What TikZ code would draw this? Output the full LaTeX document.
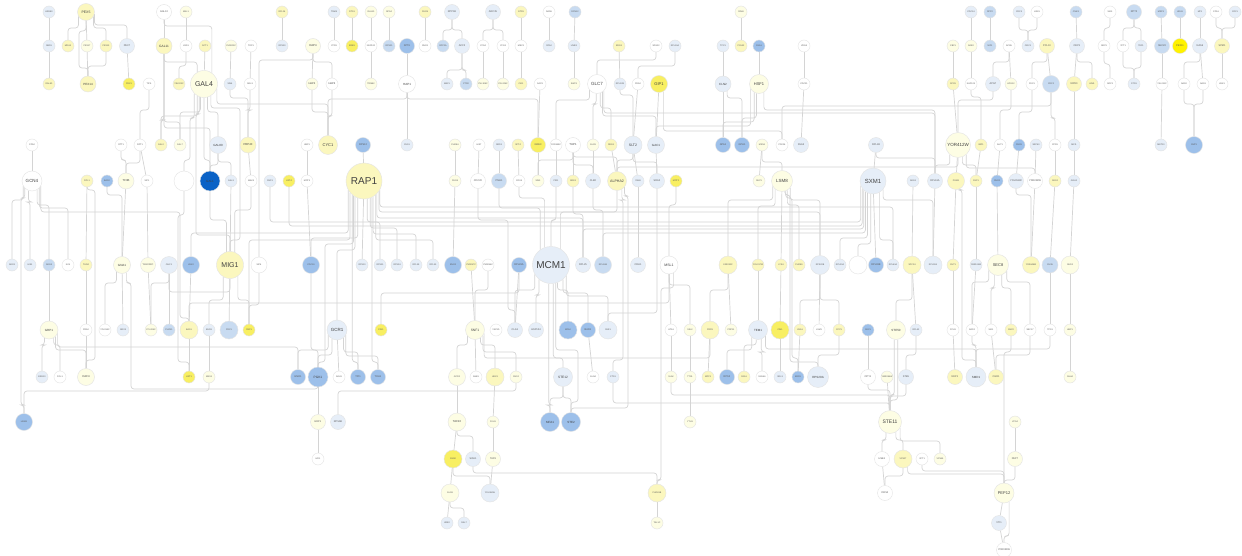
\documentclass[tikz,border=0pt]{standalone}
\usepackage{fontspec}
\setmainfont{Liberation Sans}
\usetikzlibrary{backgrounds}
\definecolor{cY0f}{HTML}{FDFDE4}
\definecolor{cYf}{HTML}{FBF7BE}
\definecolor{cYYf}{HTML}{F8EF62}
\definecolor{cYFf}{HTML}{FFF200}
\definecolor{cB0f}{HTML}{E6EEF8}
\definecolor{cBf}{HTML}{C8DBF1}
\definecolor{cBBf}{HTML}{9DC0EA}
\definecolor{cBDf}{HTML}{0A62C6}
\definecolor{edgec}{HTML}{D4D4D4}
\tikzset{
 nd/.style={circle,draw=black!11,line width=0.4pt,inner sep=0pt,minimum size=12pt,font=\fontsize{2.2}{2.6}\selectfont,text=black!65},
 cw/.style={fill=white}, cy0/.style={fill=cY0f}, cy/.style={fill=cYf}, cyy/.style={fill=cYYf},
 cyf/.style={fill=cYFf}, cb0/.style={fill=cB0f}, cb/.style={fill=cBf}, cbb/.style={fill=cBBf}, cbd/.style={fill=cBDf},
 md/.style={minimum size=15pt,font=\fontsize{2.5}{3}\selectfont},
 ft/.style={font=\fontsize{#1}{#1}\selectfont,text=black!75},
 edge/.style={draw=edgec,line width=0.7pt,rounded corners=3pt},
}
\newcommand\gn[5]{\node[nd,#4] (#1) at (#2,#3) {#5};}
\newcommand\Es[2]{\draw[edge] (#1) -- (#2);}
\newcommand\Ec[3]{\draw[edge] (#1) -- (#1 |- 0,#3) -| (#2);}
\newcommand\Ez[5]{\draw[edge] (#1) -- (#1 |- 0,#3) -- (#4,#3) -- (#4,#5) -| (#2);}
\newcommand\Ef[4]{\draw[edge] (#1.#2) |- (#3 |- 0,#4) -- (#3);}
\newcommand\Eg[6]{\draw[edge] (#1.#2) |- (#5,#4) -- (#5,#6) -| (#3);}
\newcommand\Et[4]{\draw[edge] (#1) -- (#1 |- 0,#4) -| (#2.#3);}
\begin{document}
\begin{tikzpicture}[x=1pt,y=-1pt]
\path[use as bounding box] (0,0) rectangle (1242,556);
% Row A
\gn{a1}{49}{12}{cb0}{ARG80}
\gn{a2}{86}{12}{cy,minimum size=17pt,ft=3.5}{PEX5}
\gn{a3}{164}{12}{cw,md}{GAL10}
\gn{a4}{186}{12}{cy0}{MKL1}
\gn{a5}{282}{12}{cy}{RPL24}
\gn{a6}{334}{12}{cb0}{TRM4}
\gn{a7}{352}{12}{cy}{RTS1}
\gn{a8}{371}{12}{cy0}{RLH10}
\gn{a9}{389}{12}{cy0}{NPS4}
\gn{a10}{425}{12}{cy}{PHO5}
\gn{a11}{452}{12}{cb0,md}{RPP1B}
\gn{a12}{493}{12}{cb0,md}{ARC35}
\gn{a13}{521}{12}{cy}{GTR1}
\gn{a14}{549}{12}{cw}{RAD6}
\gn{a15}{575}{12}{cb}{RPN12}
\gn{a16}{741}{12}{cy0}{RIM4}
\gn{a17}{971}{12}{cb0}{CDC14}
\gn{a18}{990}{12}{cb}{RPP2}
\gn{a19}{1019}{12}{cb0}{CDC3}
\gn{a20}{1037}{12}{cw}{VAN1}
\gn{a21}{1076}{12}{cb}{CMK1}
\gn{a22}{1110}{12}{cw}{SKI3}
\gn{a23}{1134}{12}{cb,md}{RPT2}
\gn{a24}{1161}{12}{cb}{MRP1}
\gn{a25}{1180}{12}{cb}{HDA1}
\gn{a26}{1200}{12}{cb0}{MF1}
\gn{a27}{1216}{12}{cw}{CPA1}
\gn{a28}{1235}{12}{cb0}{COF1}
% Row B
\gn{b1}{49}{46}{cb0}{NBD1}
\gn{b2}{68}{46}{cy}{MDH3}
\gn{b3}{87}{46}{cy0}{PEX17}
\gn{b4}{106}{46}{cy}{PEX13}
\gn{b5}{127}{46}{cb0,md}{PEX7}
\gn{b6}{164}{46}{cy,minimum size=16pt,ft=3.2}{GAL11}
\gn{b7}{186}{46}{cw}{LRG1}
\gn{b8}{205}{46}{cy}{SCT1}
\gn{b9}{231}{46}{cy0}{YHR003C}
\gn{b10}{251}{46}{cw}{TOP1}
\gn{b11}{282}{46}{cb0}{RPS30}
\gn{b12}{313}{46}{cy0,md,ft=2.8}{HAP4}
\gn{b13}{334}{46}{cw}{YPR1}
\gn{b14}{352}{46}{cyy}{ERB1}
\gn{b15}{371}{46}{cw}{NUP120}
\gn{b16}{389}{46}{cb}{RPS21}
\gn{b17}{407}{46}{cbb,md}{SPT6}
\gn{b18}{425}{46}{cw}{SNO1}
\gn{b19}{443}{46}{cb}{RPP2A}
\gn{b20}{462}{46}{cb0,md}{ACF2}
\gn{b21}{483}{46}{cw}{YCS4}
\gn{b22}{503}{46}{cw}{YCG1}
\gn{b23}{521}{46}{cw}{MEC1}
\gn{b24}{549}{46}{cb0}{RFA2}
\gn{b25}{574}{46}{cb0}{UME1}
\gn{b26}{619}{46}{cy}{ERG1}
\gn{b27}{656}{46}{cw}{SDS22}
\gn{b28}{675}{46}{cb0}{RPL19A}
\gn{b29}{723}{46}{cb0}{TPC1}
\gn{b30}{741}{46}{cy}{POL32}
\gn{b31}{759}{46}{cbb}{SSA1}
\gn{b32}{804}{46}{cw}{VRG4}
\gn{b33}{953}{46}{cy0}{CBF1}
\gn{b34}{971}{46}{cy0}{ADE2}
\gn{b35}{990}{46}{cb}{NIP1}
\gn{b36}{1009}{46}{cw}{APG5}
\gn{b37}{1028}{46}{cb0}{ORC1}
\gn{b38}{1047}{46}{cy,md}{PCL10}
\gn{b39}{1077}{46}{cb0,md}{OKP1}
\gn{b40}{1104}{46}{cw}{NDP1}
\gn{b41}{1123}{46}{cw}{YPT1}
\gn{b42}{1141}{46}{cb0}{TEF1}
\gn{b43}{1162}{46}{cb,md}{SEC20}
\gn{b44}{1180}{46}{cyf,md}{PEX11}
\gn{b45}{1200}{46}{cb0,md}{NAS6}
\gn{b46}{1222}{46}{cy,md}{SPM1}
% Row C
\gn{c1}{49}{84}{cy}{DAL80}
\gn{c2}{88}{84}{cy,minimum size=16pt,ft=3}{PEX14}
\gn{c3}{129}{84}{cyy}{PEX1}
\gn{c4}{149}{84}{cw}{TIF5}
\gn{c5}{179}{84}{cy}{YEL023C}
\gn{c6}{204}{84}{cy0,minimum size=27pt,ft=7}{GAL4}
\gn{c7}{230}{84}{cb0}{SIN4}
\gn{c8}{250}{84}{cw}{NGL3}
\gn{c9}{312}{84}{cy0,ft=2.6}{HAP2}
\gn{c10}{332}{84}{cw,ft=2.6}{HAP3}
\gn{c11}{371}{84}{cy0}{TRM82}
\gn{c12}{407}{84}{cw,minimum size=17pt,ft=3}{HAP1}
\gn{c13}{447}{84}{cb0}{MAF1}
\gn{c14}{466}{84}{cb}{CTR2}
\gn{c15}{483}{84}{cy0}{YNL108C}
\gn{c16}{503}{84}{cy0}{YGL204C}
\gn{c17}{521}{84}{cy}{CKI1}
\gn{c18}{540}{84}{cw}{SAC3}
\gn{c19}{574}{84}{cy0}{SWC1}
\gn{c20}{597}{84}{cw,minimum size=19pt,ft=4.5}{GLC7}
\gn{c21}{620}{84}{cb0}{RPL12B}
\gn{c22}{638}{84}{cw}{PEA2}
\gn{c23}{659}{84}{cyy,minimum size=17pt,ft=4}{GIP1}
\gn{c24}{723}{84}{cb0,minimum size=16pt,ft=3}{CLN2}
\gn{c25}{759}{84}{cy0,minimum size=19pt,ft=4}{HSF1}
\gn{c26}{804}{84}{cw}{CDC21}
\gn{c27}{953}{84}{cy}{SPO1}
\gn{c28}{971}{84}{cw}{KAP123}
\gn{c29}{993}{84}{cb0,md}{APG7}
\gn{c30}{1011}{84}{cy0}{APG12}
\gn{c31}{1032}{84}{cw}{PKC1}
\gn{c32}{1051}{84}{cb,minimum size=17pt}{CDC2}
\gn{c33}{1074}{84}{cy,md}{NIP80}
\gn{c34}{1092}{84}{cy}{HIM1}
\gn{c35}{1110}{84}{cw}{NOP1}
\gn{c36}{1134}{84}{cb0}{STD1}
\gn{c37}{1162}{84}{cw}{YKL211C}
\gn{c38}{1184}{84}{cw}{NAS2}
\gn{c39}{1203}{84}{cw}{NAS3}
\gn{c40}{1222}{84}{cw}{HXK1}
% Row D
\gn{d1}{32}{145}{cw}{CPA2}
\gn{d2}{121}{145}{cw}{RTT1}
\gn{d3}{140}{145}{cw}{RPT1}
\gn{d4}{161}{145}{cy}{GAL2}
\gn{d5}{180}{145}{cy0}{GAL7}
\gn{d6}{218}{145}{cb0,minimum size=17pt,ft=3}{GAL80}
\gn{d7}{248}{145}{cy,minimum size=16pt,ft=2.8}{PRP40}
\gn{d8}{307}{145}{cw}{UBP1}
\gn{d9}{328}{145}{cy,minimum size=19pt,ft=4}{CYC1}
\gn{d10}{363}{145}{cbb,md}{RPS12}
\gn{d11}{407}{145}{cb0}{CUS1}
\gn{d12}{455}{145}{cy0}{PHO84}
\gn{d13}{479}{145}{cw}{HIS7}
\gn{d14}{499}{145}{cb0}{NRD1}
\gn{d15}{518}{145}{cy}{SPT4}
\gn{d16}{538}{145}{cyy,md}{GRE3}
\gn{d17}{556}{145}{cw}{YOR149C}
\gn{d18}{573}{145}{cw,md,ft=2.8}{TUP1}
\gn{d19}{593}{145}{cy0}{GLC8}
\gn{d20}{611}{145}{cy}{REG1}
\gn{d21}{633}{145}{cb0,minimum size=18pt,ft=3.5}{SLT2}
\gn{d22}{656}{145}{cb0,minimum size=17pt,ft=3}{GAC1}
\gn{d23}{723}{145}{cbb,md}{GPA1}
\gn{d24}{742}{145}{cbb,md}{GPH1}
\gn{d25}{762}{145}{cy0}{MSN1}
\gn{d26}{782}{145}{cw}{PFK26}
\gn{d27}{801}{145}{cb0,md}{SSA3}
\gn{d28}{876}{145}{cb0,md}{RPL1B}
\gn{d29}{958}{145}{cy0,minimum size=25pt,ft=4.5}{YOR412W}
\gn{d30}{981}{145}{cy}{IMP1}
\gn{d31}{1000}{145}{cw}{AUT1}
\gn{d32}{1019}{145}{cbb}{RSC8}
\gn{d33}{1036}{145}{cb0}{SRP40}
\gn{d34}{1055}{145}{cw}{CPR1}
\gn{d35}{1074}{145}{cb0}{MCI1}
\gn{d36}{1161}{145}{cb0}{MET10}
\gn{d37}{1194}{145}{cbb,minimum size=17pt}{SMT3}
% Row E
\gn{e1}{32}{181}{cw,minimum size=20pt,ft=4.5}{GCN4}
\gn{e2}{87}{181}{cy}{RPL1}
\gn{e3}{107}{181}{cbb}{BAS2}
\gn{e4}{126}{181}{cy0,minimum size=16pt,ft=2.8}{TFIIB}
\gn{e5}{147}{181}{cw}{SIP1}
\gn{e6}{184}{181}{cw,minimum size=20pt}{}
\gn{e7}{210}{181}{cbd,minimum size=20pt,ft=3}{GAL1}
\gn{e8}{231}{181}{cb0}{GAL3}
\gn{e9}{251}{181}{cw}{MAK3}
\gn{e10}{270}{181}{cb0}{SNF3}
\gn{e11}{289}{181}{cyy}{HXT4}
\gn{e12}{307}{181}{cw}{MOT3}
\gn{e13}{364}{181}{cy,minimum size=36pt,ft=10}{RAP1}
\gn{e14}{455}{181}{cy0}{PHO4}
\gn{e15}{478}{181}{cw,md}{CDC20}
\gn{e16}{499}{181}{cb,md}{PMA1}
\gn{e17}{519}{181}{cw}{COX4}
\gn{e18}{538}{181}{cy0}{SIN3}
\gn{e19}{556}{181}{cb0}{PIR1}
\gn{e20}{573}{181}{cy}{GRE1}
\gn{e21}{593}{181}{cb0,md}{CLB2}
\gn{e22}{617}{181}{cy,minimum size=19pt,ft=3.6}{ALPHA2}
\gn{e23}{638}{181}{cb0}{SWI4}
\gn{e24}{657}{181}{cb0,md}{SRA2}
\gn{e25}{676}{181}{cyy}{MOT2}
\gn{e26}{759}{181}{cy0}{NUP1}
\gn{e27}{782}{181}{cy0,minimum size=21pt,ft=4.5}{LSM8}
\gn{e28}{873}{181}{cb0,minimum size=26pt,ft=6}{SXM1}
\gn{e29}{913}{181}{cb0}{ARG1}
\gn{e30}{935}{181}{cb0,md}{RPL16A}
\gn{e31}{956}{181}{cy,minimum size=17pt}{PGM1}
\gn{e32}{976}{181}{cy}{SSP1}
\gn{e33}{997}{181}{cbb}{SNO2}
\gn{e34}{1016}{181}{cb0,md}{YOL054W}
\gn{e35}{1035}{181}{cw,md}{YDR248W}
\gn{e36}{1055}{181}{cy}{SEC4}
\gn{e37}{1074}{181}{cb0}{GGA2}
% Row F
\gn{f1}{12}{265}{cb0}{ARO1}
\gn{f2}{30}{265}{cb0}{HIS1}
\gn{f3}{49}{265}{cb}{ARG3}
\gn{f4}{68}{265}{cw}{ILV5}
\gn{f5}{86}{265}{cy}{THR4}
\gn{f6}{122}{265}{cy0,minimum size=17pt,ft=3}{GNA1}
\gn{f7}{148}{265}{cy0,md}{YHL014C}
\gn{f8}{169}{265}{cb0,minimum size=17pt}{OHC1}
\gn{f9}{191}{265}{cbb,minimum size=17pt}{HXK2}
\gn{f10}{230}{265}{cy,minimum size=27pt,ft=7}{MIG1}
\gn{f11}{259}{265}{cw,minimum size=16pt}{SIP4}
\gn{f12}{311}{265}{cbb,minimum size=17pt}{CDC19}
\gn{f13}{362}{265}{cb0}{RPS10}
\gn{f14}{380}{265}{cb0}{RPS31}
\gn{f15}{397}{265}{cb0}{RPS24}
\gn{f16}{416}{265}{cb0}{RPL39}
\gn{f17}{433}{265}{cb0}{RPL33}
\gn{f18}{453}{265}{cbb,minimum size=17pt}{ENO2}
\gn{f19}{471}{265}{cy}{YNR057C}
\gn{f20}{488}{265}{cw}{YNR056C}
\gn{f21}{519}{265}{cbb,md}{RPL26A}
\gn{f22}{551}{265}{cb0,minimum size=37pt,ft=10}{MCM1}
\gn{f23}{583}{265}{cb0,md}{RPL25}
\gn{f24}{603}{265}{cb,minimum size=17pt}{RPL16B}
\gn{f25}{638}{265}{cb0,md}{CRH1}
\gn{f26}{669}{265}{cw,minimum size=18pt,ft=3.5}{MSL1}
\gn{f27}{728}{265}{cy,minimum size=18pt}{YAR032C}
\gn{f28}{758}{265}{cy}{YOL017W}
\gn{f29}{781}{265}{cy}{LYS4}
\gn{f30}{799}{265}{cy}{PHO89}
\gn{f31}{820}{265}{cb0,minimum size=19pt}{RPS20B}
\gn{f32}{840}{265}{cb0}{RPL20A}
\gn{f33}{858}{265}{cw,minimum size=18pt}{}
\gn{f34}{876}{265}{cbb,md}{RPL36B}
\gn{f35}{893}{265}{cb0}{RPL43A}
\gn{f36}{912}{265}{cy,minimum size=18pt}{SPC24}
\gn{f37}{933}{265}{cb0,minimum size=18pt}{RPL11B}
\gn{f38}{953}{265}{cy}{CHT1}
\gn{f39}{976}{265}{cb0}{YBR124W}
\gn{f40}{998}{265}{cy0,minimum size=21pt,ft=4}{SEC8}
\gn{f41}{1031}{265}{cy,minimum size=17pt}{YDR448W}
\gn{f42}{1050}{265}{cb,minimum size=16pt}{CHS5}
\gn{f43}{1070}{265}{cy0,minimum size=18pt}{NUD2}
% Row G
\gn{g1}{49}{330}{cy0,minimum size=18pt,ft=3}{GRP1}
\gn{g2}{86}{330}{cw}{PRA2}
\gn{g3}{105}{330}{cw}{YFL034C}
\gn{g4}{123}{330}{cb0}{GRX3}
\gn{g5}{151}{330}{cy0}{YCL026C}
\gn{g6}{169}{330}{cb}{PHO11}
\gn{g7}{189}{330}{cy,minimum size=18pt}{BAS1}
\gn{g8}{209}{330}{cb0}{BUD3}
\gn{g9}{229}{330}{cb,minimum size=18pt}{PDC1}
\gn{g10}{249}{330}{cyy}{FBP1}
\gn{g11}{337}{330}{cb0,minimum size=20pt,ft=4.5}{GCR1}
\gn{g12}{381}{330}{cyy}{PGI1}
\gn{g13}{475}{330}{cy0,minimum size=19pt,ft=3.3}{SNF1}
\gn{g14}{496}{330}{cw}{YAP1D}
\gn{g15}{515}{330}{cb0,md}{CLG1}
\gn{g16}{536}{330}{cb0,md}{HSP104}
\gn{g17}{568}{330}{cbb,minimum size=18pt}{MFA2}
\gn{g18}{588}{330}{cbb,md}{BAR1}
\gn{g19}{608}{330}{cb0,minimum size=18pt}{FAR1}
\gn{g20}{671}{330}{cw}{HTA1}
\gn{g21}{690}{330}{cy0}{SSL2}
\gn{g22}{710}{330}{cy,minimum size=18pt}{PRP8}
\gn{g23}{731}{330}{cy0}{PRP11}
\gn{g24}{758}{330}{cb0,minimum size=19pt,ft=3}{TEM1}
\gn{g25}{780}{330}{cyy,minimum size=18pt}{CIN1}
\gn{g26}{800}{330}{cy}{USA1}
\gn{g27}{819}{330}{cw}{LSM1}
\gn{g28}{839}{330}{cy}{CCP1}
\gn{g29}{868}{330}{cbb}{SEC1}
\gn{g30}{896}{330}{cy0,minimum size=19pt,ft=3}{STE50}
\gn{g31}{916}{330}{cb0}{RPL42}
\gn{g32}{953}{330}{cw}{PCH1}
\gn{g33}{972}{330}{cw}{ARP4}
\gn{g34}{991}{330}{cw}{SKI1}
\gn{g35}{1011}{330}{cy}{SNC2}
\gn{g36}{1030}{330}{cw}{SEC17}
\gn{g37}{1050}{330}{cw}{TPS1}
\gn{g38}{1070}{330}{cy0}{HBP1}
% Row H
\gn{h1}{42}{377}{cb0}{ERG10}
\gn{h2}{60}{377}{cw}{FOL1}
\gn{h3}{86}{377}{cy0,minimum size=17pt,ft=2.8}{CAF4}
\gn{h4}{189}{377}{cyy}{HXT1}
\gn{h5}{209}{377}{cy0}{MKS1}
\gn{h6}{298}{377}{cbb,md}{ENO1}
\gn{h7}{318}{377}{cbb,minimum size=20pt,ft=3.2}{PGK1}
\gn{h8}{339}{377}{cw}{ADH1}
\gn{h9}{358}{377}{cbb,md}{TPI1}
\gn{h10}{378}{377}{cbb,md}{TDH1}
\gn{h11}{457}{377}{cy0,minimum size=17pt}{GCR2}
\gn{h12}{476}{377}{cw}{ANB1}
\gn{h13}{495}{377}{cy,minimum size=18pt}{HEX3}
\gn{h14}{516}{377}{cy0}{SNF4}
\gn{h15}{563}{377}{cb0,minimum size=19pt,ft=3.2}{STE12}
\gn{h16}{593}{377}{cw}{GLN4}
\gn{h17}{613}{377}{cb0}{CTS1}
\gn{h18}{671}{377}{cy0}{SLA2}
\gn{h19}{690}{377}{cy0}{TTS1}
\gn{h20}{708}{377}{cy}{MPP1}
\gn{h21}{727}{377}{cbb,md}{RPS2}
\gn{h22}{744}{377}{cy}{PAA1}
\gn{h23}{762}{377}{cw}{SNU66}
\gn{h24}{780}{377}{cb0}{SRL3}
\gn{h25}{798}{377}{cbb}{BRR1}
\gn{h26}{818}{377}{cb0,minimum size=21pt,ft=3}{RPS20A}
\gn{h27}{868}{377}{cw,md}{OPY1}
\gn{h28}{887}{377}{cy0}{YMR086W}
\gn{h29}{906}{377}{cb0,md}{STE5}
\gn{h30}{955}{377}{cy,md}{NKP1}
\gn{h31}{976}{377}{cb0,minimum size=20pt,ft=3}{SMD1}
\gn{h32}{996}{377}{cy,md}{CGR1}
\gn{h33}{1070}{377}{cy0}{SHH4}
% Row I
\gn{i1}{24}{422}{cbb,minimum size=17pt}{HEM1}
\gn{i2}{318}{422}{cy0,md}{ERP1}
\gn{i3}{338}{422}{cb0,md}{RPS6B}
\gn{i4}{457}{422}{cy0,minimum size=18pt,ft=2.8}{TAF10}
\gn{i5}{493}{422}{cy0}{FKH1}
\gn{i6}{550}{422}{cbb,minimum size=19pt,ft=3}{MFA1}
\gn{i7}{571}{422}{cbb,minimum size=19pt,ft=3}{STE2}
\gn{i8}{690}{422}{cy0}{YTH1}
\gn{i9}{890}{422}{cy0,minimum size=23pt,ft=5}{STE11}
\gn{i10}{1015}{422}{cy0}{VPS4}
% Row J
\gn{j1}{318}{459}{cw}{HFI1}
\gn{j2}{453}{459}{cyy,minimum size=18pt}{SSN2}
\gn{j3}{473}{459}{cb0,md}{SOH1}
\gn{j4}{493}{459}{cy0,md}{TAF9}
\gn{j5}{882}{459}{cw,md}{HSE1}
\gn{j6}{903}{459}{cy,minimum size=18pt}{VPS27}
\gn{j7}{922}{459}{cw}{VPT1}
\gn{j8}{940}{459}{cy0}{VPS45}
\gn{j9}{1015}{459}{cy0,md}{PEP7}
% Row K, L
\gn{k1}{450}{493}{cy0,minimum size=18pt}{GLN3}
\gn{k2}{490}{493}{cb0,minimum size=18pt}{YDL066W}
\gn{k3}{657}{493}{cy,minimum size=18pt}{PHO81B}
\gn{k4}{885}{493}{cw,md}{DRS2}
\gn{k5}{1004}{493}{cy0,minimum size=20pt,ft=4}{PEP12}
\gn{l1}{447}{523}{cb0}{URE2}
\gn{l2}{464}{523}{cb0}{DAL7}
\gn{l3}{657}{523}{cy0}{TAL1C}
\gn{l4}{999}{523}{cb0,md}{VTI1}
\gn{l5}{1004}{550}{cw,md}{YOR036W}
\begin{pgfonlayer}{background}
\fill[white] (0,0) rectangle (1242,556);
% top left
\Es{a1}{b1} \Es{b1}{c1}
\Ef{a2}{-150}{b2}{28} \Es{a2}{b3} \Ef{a2}{-30}{b4}{28} \Ef{a2}{-15}{b5}{25}
\Ez{a2}{c2}{31}{79}{68}
\Es{b3}{c2} \Ec{b4}{c2}{66} \Es{b5}{c3}
\Es{a3}{b6} \Et{a3}{c6}{55}{26}
\Es{a4}{b7} \Ec{b7}{c5}{66} \Es{b8}{c6}
\Et{b6}{c6}{120}{62} \Ec{b6}{d4}{120} \Ec{b6}{d5}{122} \Ec{b6}{e7}{128}
\Ef{c6}{-120}{d4}{116} \Ef{c6}{-105}{d5}{112} \Ef{c6}{-75}{d6}{112} \Ef{c6}{-90}{e7}{160}
\Eg{c6}{-60}{f10}{108}{240}{240} \Eg{c6}{-110}{f10}{114}{196}{235}
\Eg{c6}{-135}{e6}{118}{190}{160} \Ef{c6}{-20}{d9}{104}
\Es{b9}{c7} \Es{b10}{c8} \Ec{c7}{d7}{98} \Ec{c8}{d7}{110}
\Es{a5}{b11}
\Es{b12}{c9} \Ec{b12}{c10}{62} \Ec{b12}{f11}{60}
\Ec{c9}{d9}{112} \Ec{c10}{d9}{116}
\Es{b17}{c12} \Ec{c12}{d9}{99} \Ec{c12}{d16}{99} \Es{c12}{d11}
\Es{a6}{b13} \Es{a7}{b14} \Es{a8}{b15} \Es{b15}{c11} \Es{a9}{b16} \Es{a10}{b18}
\Ec{a11}{b19}{30} \Ec{a11}{b20}{30} \Ec{b20}{c13}{70} \Ec{b20}{c14}{70}
\Ec{a12}{b21}{30} \Ec{a12}{b22}{30} \Es{b21}{c15} \Es{b22}{c16}
\Es{a13}{b23} \Es{b23}{c17} \Es{a14}{b24} \Es{a15}{b25} \Es{b25}{c19}
\Es{c18}{d16}
% GLC7 / HSF1
\Ec{c20}{b27}{60} \Ec{b28}{c22}{66}
\Ef{c20}{-140}{d17}{100} \Ef{c20}{-95}{d19}{104} \Ef{c20}{-70}{d20}{108} \Ef{c20}{-55}{d22}{116}
\Ef{c20}{-45}{e30}{113}
\Es{b26}{c21} \Ec{c21}{d21}{95} \Es{c22}{d21}
\Es{c23}{d22} \Ef{c23}{-60}{d26}{131}
\Es{b29}{c24} \Es{c24}{d23} \Ef{c24}{-60}{d24}{98}
\Es{a16}{b30} \Es{b31}{c25}
\Ef{c25}{-150}{d22}{126} \Ef{c25}{-120}{d23}{122} \Ef{c25}{-105}{d24}{118} \Ef{c25}{-60}{e30}{110}
\Ec{d26}{c32}{106}
\Es{b32}{c26} \Es{c26}{d27}
\Es{d25}{e26} \Ec{d25}{e27}{162}
\Es{d28}{e28} \Ec{d28}{e30}{158}
% top right
\Es{a17}{b34} \Es{b34}{c28} \Es{a18}{b35} \Ec{a19}{b37}{30} \Ec{a20}{b37}{30}
\Es{b33}{c27} \Ec{c28}{d30}{97} \Ec{b36}{c29}{62} \Es{b36}{c30}
\Es{c27}{d29} \Ec{c29}{d29}{100} \Ec{c30}{d31}{110}
\Ec{b38}{c31}{62} \Es{b38}{c32} \Ec{c31}{d32}{112} \Ec{c32}{d34}{118}
\Es{a21}{b39} \Es{b39}{c33} \Ec{b39}{c34}{62} \Es{c33}{d35}
\Ec{a22}{b40}{28} \Ec{b40}{c35}{64}
\Ec{a23}{b41}{28} \Ec{a23}{b42}{28} \Ec{b41}{c36}{68} \Ec{b42}{c36}{68}
\Es{a24}{b43} \Es{b43}{c37} \Es{c37}{d36} \Es{a25}{b44}
\Es{a26}{b45} \Ec{b45}{c38}{62} \Es{b45}{c39} \Ec{c38}{d37}{104} \Ec{c39}{d37}{104}
\Ec{a27}{b46}{28} \Ec{a28}{b46}{28} \Es{b46}{c40}
\Es{d33}{e35} \Es{d34}{e36} \Es{d35}{e37} \Es{d30}{e32} \Es{d31}{e33} \Es{d32}{e34}
\Ef{d29}{-130}{e30}{165} \Es{d29}{e31} \Ef{d29}{-70}{e32}{165} \Ef{d29}{-50}{e35}{168}
\Es{e32}{f39} \Es{e33}{f40} \Ec{e34}{f41}{195} \Es{e35}{f41} \Es{e36}{f42} \Es{e37}{f43}
\Es{e31}{f38} \Es{e30}{f37} \Es{e29}{f36}
\Ef{f40}{-150}{g33}{282} \Ef{f40}{-110}{g34}{288} \Ef{f40}{-70}{g35}{288} \Ef{f40}{-35}{g36}{282}
\Es{f42}{g37} \Es{f43}{g38} \Es{g38}{h33} \Es{f38}{g32} \Es{g32}{h30} \Es{f39}{g33}
\Ec{g33}{h31}{345} \Ec{g37}{h31}{349} \Ec{g36}{h32}{355} \Es{g34}{h32} \Ec{g35}{k5}{352}
\Eg{e31}{-70}{h31}{190}{962}{360}
% left middle
\Es{d1}{e1}
\Ec{d2}{e4}{160} \Ec{d3}{e4}{163} \Es{d3}{e5} \Ec{c4}{d3}{110}
\Ef{e1}{-150}{f1}{200} \Ef{e1}{-110}{f2}{202} \Ef{e1}{-60}{f3}{205} \Ef{e1}{-45}{f4}{208}
\Eg{e1}{-30}{g7}{212}{180}{318} \Eg{e1}{-135}{i1}{198}{21}{405}
\Es{e2}{f5} \Es{f5}{g2} \Ez{e2}{h3}{190}{95}{360}
\Ec{e3}{f6}{195} \Es{e4}{f6} \Es{e5}{f7}
\Ef{f6}{-130}{g3}{283} \Es{f6}{g4} \Eg{f6}{-60}{h7}{283}{131}{389}
\Es{f7}{g5} \Es{f8}{g6} \Ec{f8}{g5}{283} \Ec{f8}{f10}{292} \Es{f9}{g7}
\Ez{e6}{h4}{215}{178}{362}
\Et{e7}{f10}{105}{220} \Es{e8}{f10} \Et{e9}{f10}{70}{210}
\Ec{d6}{e8}{162} \Ec{d6}{e7}{165} \Es{d7}{e9}
\Es{d8}{e12} \Es{e12}{f12} \Es{d10}{e13}
\Ef{f10}{-120}{g8}{300} \Es{f10}{g9} \Ef{f10}{-55}{g10}{300} \Ec{f11}{g10}{305}
\Es{g7}{h4} \Es{g8}{h5} \Ec{h5}{i1}{391} \Es{f3}{g1}
\Ef{g1}{-120}{h1}{345} \Ef{g1}{-60}{h2}{345} \Ef{g1}{-45}{h3}{350} \Ef{g1}{-20}{h6}{347} \Es{g2}{h3}
% RAP1
\Es{e13}{f13} \Ef{e13}{-80}{f14}{222} \Ef{e13}{-70}{f15}{228} \Ef{e13}{-60}{f16}{234} \Ef{e13}{-50}{f17}{240}
\Ef{e13}{-30}{f35}{207} \Ef{e13}{-35}{f31}{212} \Ef{e13}{-45}{f23}{218}
\Ef{e13}{-110}{f12}{238} \Ef{e13}{-120}{g11}{250} \Ef{e13}{-140}{g10}{240} \Ef{e13}{-150}{f9}{233}
\Eg{e13}{-125}{h7}{244}{325}{362} \Ef{e13}{-130}{h9}{362} \Ef{e13}{-64}{h10}{362}
% GCR1
\Ef{g11}{-150}{h6}{350} \Ef{g11}{-120}{h7}{355} \Es{g11}{h8} \Ef{g11}{-50}{h9}{352} \Ef{g11}{-30}{h10}{356}
\Ec{f12}{h7}{350} \Es{h7}{i2} \Es{i2}{j1} \Ec{h14}{i3}{391}
% middle
\Es{d12}{e14} \Es{e14}{f18} \Es{d13}{e15} \Es{d14}{e16} \Es{d15}{e17} \Es{d16}{e18} \Es{d17}{e19} \Es{d19}{e21}
\Et{e16}{f22}{125}{208} \Et{e17}{f22}{110}{198} \Et{e19}{f22}{90}{220} \Et{e22}{f22}{60}{212}
\Ez{e15}{g15}{220}{508}{310} \Ec{e21}{f24}{210} \Ec{e20}{f23}{214}
\Ec{d18}{e18}{160} \Ec{d18}{e22}{157} \Ec{d18}{e21}{165} \Es{d18}{e20} \Es{d20}{e22}
\Es{d21}{e23} \Ec{d21}{e22}{160} \Ec{d21}{e24}{162} \Es{d22}{e24}
\Ec{e22}{d29}{167}
\Eg{e22}{-60}{h17}{200}{623}{360} \Eg{e22}{-40}{i7}{196}{628}{408}
\Es{e23}{f25} \Ec{e24}{g19}{313} \Ec{e25}{f26}{205}
% MCM1
\Ef{f22}{-150}{g15}{290} \Ef{f22}{-130}{g16}{295} \Ef{f22}{-70}{g17}{290} \Ef{f22}{-50}{g18}{293} \Ef{f22}{-35}{g19}{296}
\Ef{f22}{-97}{i6}{405} \Ef{f22}{-83}{h15}{358} \Eg{f22}{-75}{i7}{350}{578}{402}
\Es{f21}{g15} \Ec{g12}{f21}{293} \Es{g18}{h16}
\Ec{h15}{i6}{398} \Ec{h15}{i7}{398} \Ec{h17}{i9}{403}
% SNF1
\Ef{g13}{-140}{h11}{345} \Es{g13}{h12} \Ef{g13}{-55}{h13}{345} \Ef{g13}{-35}{h14}{352}
\Ef{g13}{-20}{g22}{358} \Es{f19}{g13} \Ec{f20}{g13}{290}
\Es{h11}{i4} \Es{i4}{j2} \Ec{i4}{j3}{436} \Es{h13}{i5} \Es{i5}{j4}
\Es{j2}{k1} \Ec{j2}{k2}{476} \Es{j4}{k2} \Ec{j3}{k3}{473} \Es{k1}{l1} \Ec{k1}{l2}{508} \Es{k3}{l3}
% MSL1
\Es{f26}{g20} \Es{g20}{h18} \Ec{f26}{g21}{285} \Es{g21}{h19} \Es{h19}{i8}
\Eg{f26}{-60}{k3}{288}{661}{480} \Ec{f26}{g7}{303} \Ec{h18}{i9}{395}
% SXM1
\Ef{e28}{-160}{e10}{222} \Ef{e28}{-145}{e11}{226} \Ef{e28}{-135}{f23}{229} \Ef{e28}{-125}{f24}{233}
\Ef{e28}{-115}{f32}{238} \Ef{e28}{-100}{f33}{244} \Es{e28}{f34} \Ef{e28}{-60}{f35}{240} \Ef{e28}{-40}{f37}{200}
% LSM8
\Ef{e27}{-150}{f27}{200} \Ef{e27}{-130}{f28}{206} \Es{e27}{f29} \Ef{e27}{-60}{f30}{205} \Ef{e27}{-40}{f31}{200}
\Eg{e27}{-75}{h26}{195}{790}{362} \Eg{e27}{-70}{h25}{198}{792}{358}
\Ec{f31}{g26}{300} \Es{f31}{g27} \Ec{f31}{g28}{300} \Es{g26}{h25} \Ec{g28}{h26}{355}
\Ef{g24}{-130}{h21}{350} \Ef{g24}{-100}{h22}{345} \Ef{g24}{-70}{h23}{352} \Ef{g24}{-40}{h31}{349}
\Es{f28}{g24} \Es{f29}{g25} \Es{g25}{h24}
\Ec{f27}{g22}{290} \Es{f27}{g23} \Es{g22}{h20}
% STE11 / PEP12
\Es{f36}{g31} \Ec{f36}{g30}{300} \Es{g29}{h27} \Ec{g31}{h29}{355}
\Ef{g30}{-80}{i9}{400} \Ef{g30}{-100}{i9}{395}
\Ec{h27}{i9}{390} \Es{h28}{i9} \Ec{h29}{i9}{396}
\Ef{i9}{-110}{j5}{440} \Ef{i9}{-60}{j6}{440} \Ef{i9}{-30}{j8}{441}
\Es{j5}{k4} \Ec{j6}{k4}{476} \Ef{j6}{-60}{k5}{474} \Ec{j7}{k5}{471} \Ec{j9}{k5}{480} \Es{i10}{j9}
\Es{k5}{l4} \Ef{k5}{-60}{l5}{536} \Es{l4}{l5}
\end{pgfonlayer}
\end{tikzpicture}
\end{document}
